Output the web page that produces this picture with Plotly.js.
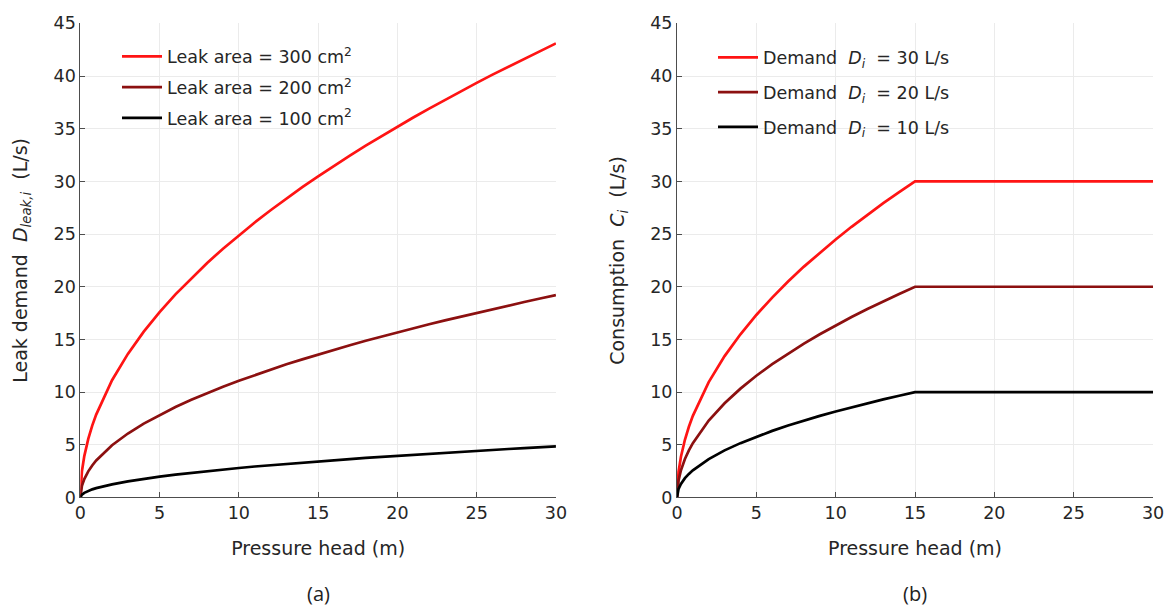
<!DOCTYPE html>
<html>
<head>
<meta charset="utf-8">
<script src="https://cdn.plot.ly/plotly-3.0.1.min.js"></script>
<style>html,body{margin:0;padding:0;background:#fff;}#chart{width:1166px;height:609px;}</style>
</head>
<body>
<div id="chart"></div>
<script>
// Panel (a): leak demand vs pressure head
const headA = [0, 0.05, 0.1, 0.25, 0.5, 0.75, 1, 2, 3, 4, 5, 6, 7, 8, 9, 10, 11, 12, 13, 14, 15, 16, 17, 18, 19, 20, 21, 22, 23, 24, 25, 26, 27, 28, 29, 30];
const leak300 = [0, 1.76, 2.49, 3.93, 5.56, 6.82, 7.87, 11.13, 13.63, 15.74, 17.6, 19.28, 20.82, 22.26, 23.61, 24.89, 26.1, 27.26, 28.38, 29.45, 30.48, 31.48, 32.45, 33.39, 34.3, 35.2, 36.06, 36.91, 37.74, 38.55, 39.35, 40.13, 40.89, 41.64, 42.38, 43.1];
const leak200 = [0, 0.78, 1.11, 1.75, 2.48, 3.04, 3.51, 4.96, 6.07, 7.01, 7.84, 8.59, 9.27, 9.91, 10.52, 11.08, 11.62, 12.14, 12.64, 13.11, 13.58, 14.02, 14.45, 14.87, 15.28, 15.68, 16.06, 16.44, 16.81, 17.17, 17.53, 17.87, 18.21, 18.55, 18.88, 19.2];
const leak100 = [0, 0.2, 0.28, 0.44, 0.63, 0.77, 0.89, 1.25, 1.53, 1.77, 1.98, 2.17, 2.34, 2.5, 2.66, 2.8, 2.94, 3.07, 3.19, 3.31, 3.43, 3.54, 3.65, 3.76, 3.86, 3.96, 4.06, 4.15, 4.25, 4.34, 4.43, 4.52, 4.6, 4.69, 4.77, 4.85];
const leakNames = ['Leak area = 300 cm<sup>2</sup>', 'Leak area = 200 cm<sup>2</sup>', 'Leak area = 100 cm<sup>2</sup>'];

// Panel (b): consumption vs pressure head
const headB = [0, 0.05, 0.1, 0.25, 0.5, 0.75, 1, 2, 3, 4, 5, 6, 7, 8, 9, 10, 11, 12, 13, 14, 15, 30];
const cons30 = [0, 1.73, 2.45, 3.87, 5.48, 6.71, 7.75, 10.95, 13.42, 15.49, 17.32, 18.97, 20.49, 21.91, 23.24, 24.49, 25.69, 26.83, 27.93, 28.98, 30, 30];
const cons20 = [0, 1.15, 1.63, 2.58, 3.65, 4.47, 5.16, 7.3, 8.94, 10.33, 11.55, 12.65, 13.66, 14.61, 15.49, 16.33, 17.13, 17.89, 18.62, 19.32, 20, 20];
const cons10 = [0, 0.58, 0.82, 1.29, 1.83, 2.24, 2.58, 3.65, 4.47, 5.16, 5.77, 6.32, 6.83, 7.3, 7.75, 8.16, 8.56, 8.94, 9.31, 9.66, 10, 10];
const consNames = ['Demand &nbsp;<i>D</i><sub><i>i</i></sub> &nbsp;= 30 L/s', 'Demand &nbsp;<i>D</i><sub><i>i</i></sub> &nbsp;= 20 L/s', 'Demand &nbsp;<i>D</i><sub><i>i</i></sub> &nbsp;= 10 L/s'];

const colors = ['#ff1414', '#8c1010', '#000000'];
const xTicks = [0, 5, 10, 15, 20, 25, 30];
const yTicks = [0, 5, 10, 15, 20, 25, 30, 35, 40, 45];

const traces = [];
[leak300, leak200, leak100].forEach((ys, i) => {
  traces.push({x: headA, y: ys, type: 'scatter', mode: 'lines', name: leakNames[i],
    line: {color: colors[i], width: 2.7}, xaxis: 'x', yaxis: 'y', legend: 'legend', legendgroup: 'a' + i});
});
[cons30, cons20, cons10].forEach((ys, i) => {
  traces.push({x: headB, y: ys, type: 'scatter', mode: 'lines', name: consNames[i],
    line: {color: colors[i], width: 2.7}, xaxis: 'x2', yaxis: 'y2', legend: 'legend2', legendgroup: 'b' + i});
});

const FAM = 'DejaVu Sans, Liberation Sans, Arial, sans-serif';
const tickFont = {family: FAM, size: 17.5, color: '#262626'};
const axBase = {
  showgrid: true, gridcolor: '#ebebeb', gridwidth: 1,
  showline: true, linecolor: '#4d4d4d', linewidth: 1,
  ticks: 'inside', ticklen: 5, tickcolor: '#4d4d4d', tickwidth: 1,
  zeroline: false, tickfont: tickFont, fixedrange: true
};
const titleFont = {family: FAM, size: 19, color: '#262626'};
const legFont = {family: FAM, size: 17.5, color: '#262626'};

const layout = {
  width: 1166, height: 609,
  margin: {l: 0, r: 0, t: 0, b: 0},
  paper_bgcolor: '#ffffff', plot_bgcolor: '#ffffff',
  showlegend: true,
  xaxis: Object.assign({}, axBase, {domain: [0.0689, 0.4768], range: [0, 30], tickvals: xTicks,
    title: {text: 'Pressure head (m)', font: titleFont, standoff: 19}, anchor: 'y'}),
  yaxis: Object.assign({}, axBase, {domain: [0.1831, 0.9617], range: [0, 45], tickvals: yTicks,
    title: {text: 'Leak demand &nbsp;<i>D</i><sub><i>leak,i</i></sub> &nbsp;(L/s)', font: titleFont, standoff: 20}, anchor: 'x'}),
  xaxis2: Object.assign({}, axBase, {domain: [0.5806, 0.9889], range: [0, 30], tickvals: xTicks,
    title: {text: 'Pressure head (m)', font: titleFont, standoff: 19}, anchor: 'y2'}),
  yaxis2: Object.assign({}, axBase, {domain: [0.1831, 0.9617], range: [0, 45], tickvals: yTicks,
    title: {text: 'Consumption &nbsp;<i>C</i><sub><i>i</i></sub> &nbsp;(L/s)', font: titleFont, standoff: 20}, anchor: 'x2'}),
  legend: {x: 117/1166, y: 1 - 38.5/609, xanchor: 'left', yanchor: 'top', bgcolor: 'rgba(255,255,255,0)',
    font: legFont, itemwidth: 40, tracegroupgap: 5},
  legend2: {x: 713/1166, y: 1 - 39.5/609, xanchor: 'left', yanchor: 'top', bgcolor: 'rgba(255,255,255,0)',
    font: legFont, itemwidth: 40, tracegroupgap: 9},
  annotations: [
    {text: '(a)', xref: 'paper', yref: 'paper', x: 318/1166, y: 1 - 593/609, xanchor: 'center', yanchor: 'middle', showarrow: false,
     font: {family: 'Open Sans, Noto Sans, sans-serif', size: 20, color: '#222222'}},
    {text: '(b)', xref: 'paper', yref: 'paper', x: 915/1166, y: 1 - 593/609, xanchor: 'center', yanchor: 'middle', showarrow: false,
     font: {family: 'Open Sans, Noto Sans, sans-serif', size: 20, color: '#222222'}}
  ]
};

Plotly.newPlot('chart', traces, layout, {displayModeBar: false, staticPlot: true});
</script>
</body>
</html>
